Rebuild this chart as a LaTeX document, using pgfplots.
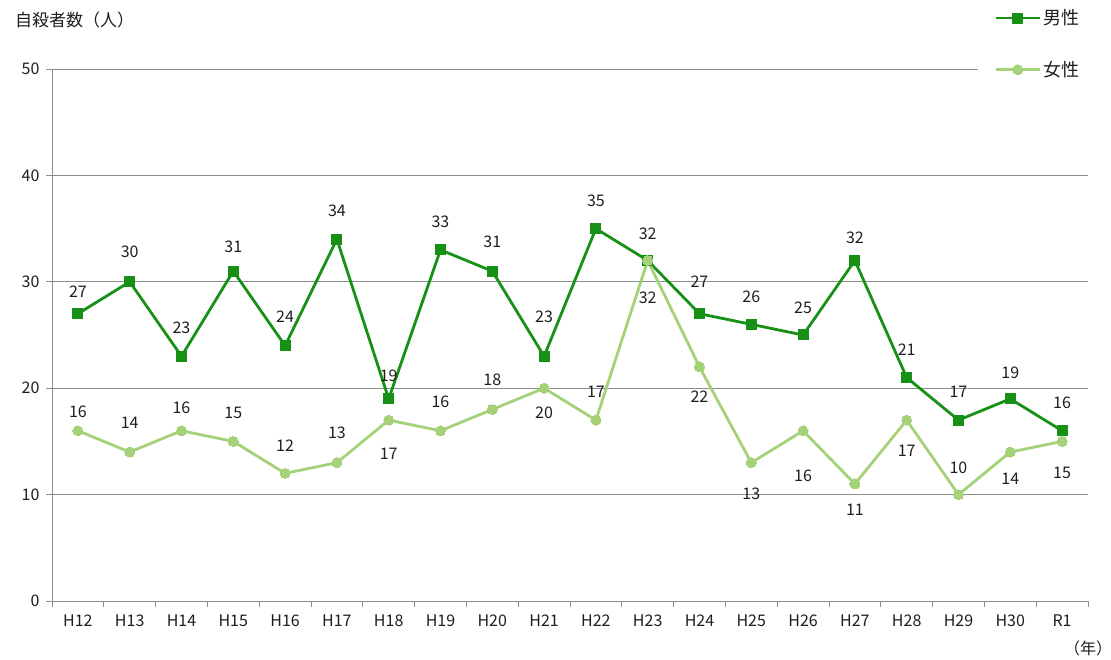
\documentclass[border=0pt]{standalone}
\usepackage{fontspec}
\setmainfont{Noto Sans CJK JP}
\usepackage{pgfplots}
\pgfplotsset{compat=1.18}
\usepackage{pgfplotstable}
\definecolor{male}{RGB}{22,145,22}
\definecolor{female}{RGB}{165,210,120}
\definecolor{gridc}{RGB}{140,140,140}
\definecolor{txt}{RGB}{30,30,30}

\pgfplotstableread{
x m mo f fo
0 27 22 16 19
1 30 30 14 29
2 23 28 16 23
3 31 24 15 29
4 24 29 12 28
5 34 28 13 30
6 19 23 17 -34
7 33 28 16 29
8 31 29 18 30
9 23 39 20 -25
10 35 28 17 28
11 32 27 32 -37
12 27 32 22 -30
13 26 28 13 -31
14 25 27 16 -45
15 32 23 11 -26
16 21 28 17 -31
17 17 28 10 27
18 19 26 14 -27
19 16 28 15 -31
}\data

\begin{document}
\begin{tikzpicture}[font=\fontsize{16}{18}\selectfont, every node/.style={text=txt}]
\useasboundingbox (-52pt,-58pt) rectangle (1059pt,601pt);
\begin{axis}[
  scale only axis, width=1036pt, height=532pt,
  xmin=-0.5, xmax=19.5, ymin=0, ymax=50,
  axis lines=left, axis line style={gridc, line width=0.8pt, -},
  xtick={0,...,19},
  xticklabels={H12,H13,H14,H15,H16,H17,H18,H19,H20,H21,H22,H23,H24,H25,H26,H27,H28,H29,H30,R1},
  minor xtick={-0.5,0.5,...,19.5},
  major x tick style={draw=none},
  minor x tick style={gridc, line width=0.8pt},
  ytick={0,10,...,50},
  y tick style={gridc, line width=0.8pt},
  ymajorgrids, grid style={gridc, line width=0.8pt},
  tick align=outside, major tick length=6pt, minor tick length=6pt,
  xticklabel style={yshift=-4pt},
  yticklabel style={xshift=-3pt},
  /pgf/number format/assume math mode=true,
  clip=false,
  legend style={at={(rel axis cs:0.894,1.123)}, anchor=north west, draw=none, fill=white,
     row sep=31pt, inner xsep=16pt, inner ysep=4pt, font=\fontsize{18}{20}\selectfont},
  legend cell align=left,
  legend image code/.code={\draw[mark repeat=2,mark phase=2] plot coordinates {(0pt,0pt) (22pt,0pt) (44pt,0pt)};},
  nodes near coords,
  every node near coord/.append style={anchor=center, text=txt, font=\fontsize{16}{18}\selectfont},
]
\addplot[male, line width=2.8pt, mark=square*, mark size=5pt, mark options={solid, fill=male, line width=0pt},
  visualization depends on={\thisrow{mo} \as \off},
  every node near coord/.append style={yshift=\off pt}]
  table[x=x, y=m] {\data};
\addlegendentry{男性}
\addplot[female, line width=2.8pt, mark=*, mark size=5pt, mark options={solid, fill=female, line width=0pt},
  visualization depends on={\thisrow{fo} \as \off},
  every node near coord/.append style={yshift=\off pt}]
  table[x=x, y=f] {\data};
\addlegendentry{女性}
\end{axis}
\node[anchor=west, inner sep=0pt, font=\fontsize{17}{19}\selectfont] at (-37pt,581pt) {自殺者数（人）};
\node[inner sep=0pt, font=\fontsize{16}{18}\selectfont] at (1036pt,-47pt) {（年）};
\end{tikzpicture}
\end{document}
